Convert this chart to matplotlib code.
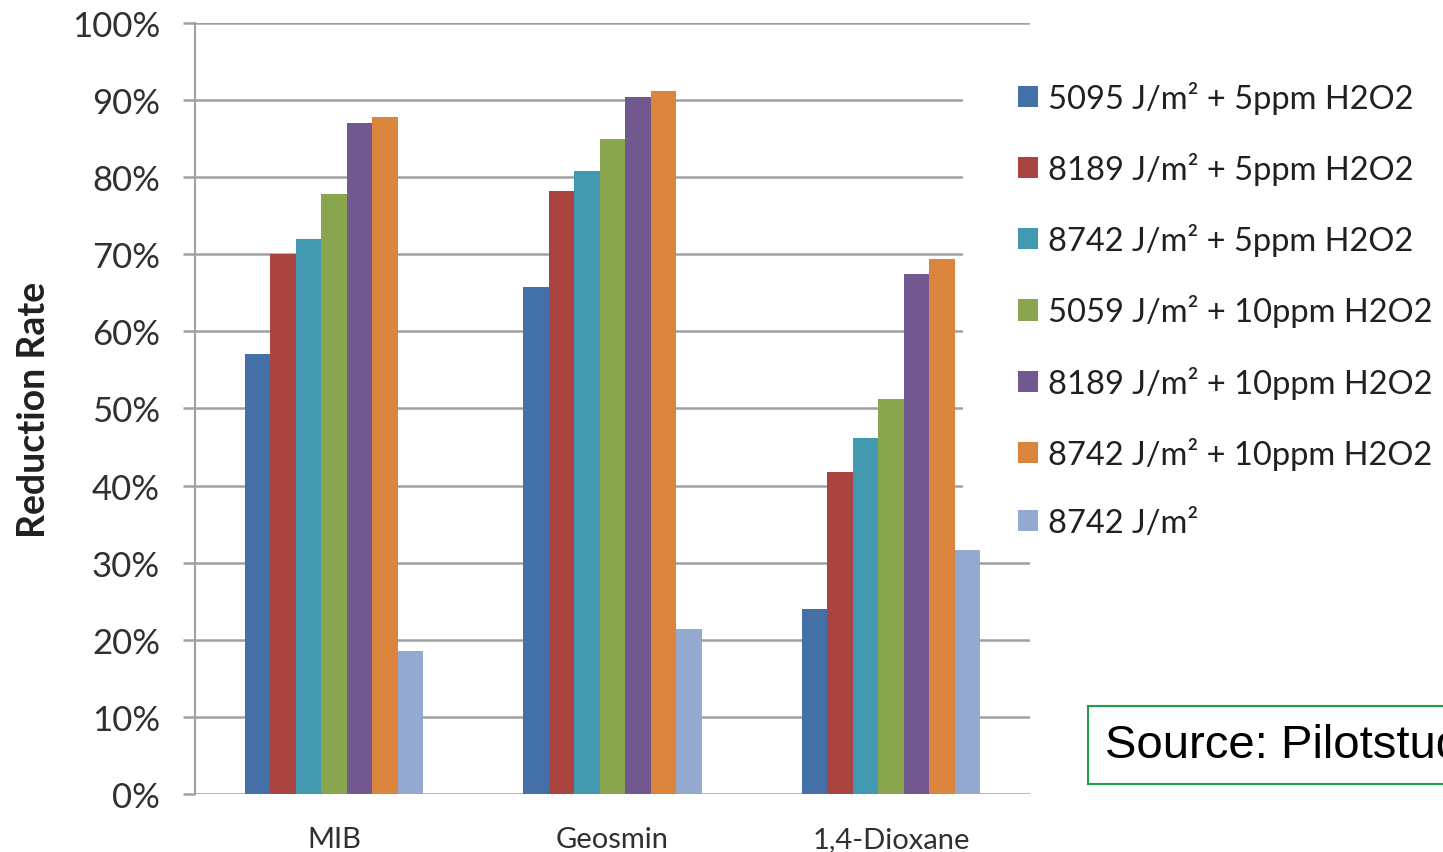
import numpy as np
import matplotlib
matplotlib.use("Agg")
from matplotlib import pyplot as plt
from matplotlib.patches import Rectangle
from matplotlib.ticker import PercentFormatter

plt.rcParams['font.family'] = ['Lato', 'DejaVu Sans']

categories = ['MIB', 'Geosmin', '1,4-Dioxane']
series_labels = ['5095 J/m² + 5ppm H2O2',
                 '8189 J/m² + 5ppm H2O2',
                 '8742 J/m² + 5ppm H2O2',
                 '5059 J/m² + 10ppm H2O2',
                 '8189 J/m² + 10ppm H2O2',
                 '8742 J/m² + 10ppm H2O2',
                 '8742 J/m²']
# reduction rate in percent, one list per series (MIB, Geosmin, 1,4-Dioxane)
s5095_5 = [57.0, 65.8, 24.0]
s8189_5 = [70.0, 78.2, 41.8]
s8742_5 = [72.0, 80.8, 46.2]
s5059_10 = [77.8, 85.0, 51.2]
s8189_10 = [87.0, 90.4, 67.4]
s8742_10 = [87.8, 91.2, 69.4]
s8742 = [18.5, 21.4, 31.6]
yticks = [0, 10, 20, 30, 40, 50, 60, 70, 80, 90, 100]

series = [s5095_5, s8189_5, s8742_5, s5059_10, s8189_10, s8742_10, s8742]
colors = ['#4470a8', '#aa4441', '#4198af', '#89a54e', '#71588f', '#db843d', '#93a9cf']

fig = plt.figure(figsize=(14.43, 8.53), dpi=100)
ax = fig.add_axes([0.135, 0.068, 0.579, 0.904])

x = np.arange(len(categories))
w = 0.0915
for i, vals in enumerate(series):
    ax.bar(x + (i - 3) * w, vals, width=w, color=colors[i], label=series_labels[i], zorder=3)

ax.set_xlim(-0.5, 2.5)
ax.set_ylim(0, 100)
ax.set_yticks(yticks)
ax.yaxis.set_major_formatter(PercentFormatter(decimals=0))
ax.grid(axis='y', color='#a0a0a0', lw=1.8, zorder=0)
ax.set_axisbelow(True)
for s in ['top', 'right', 'bottom']:
    ax.spines[s].set_visible(False)
ax.spines['left'].set_color('#a0a0a0')
ax.spines['left'].set_linewidth(1.5)
ax.tick_params(axis='y', length=9, width=1.8, color='#a0a0a0', pad=16, labelsize=25, labelcolor='#303030')
ax.tick_params(axis='x', length=0, pad=23, labelsize=21, labelcolor='#303030')
ax.set_xticks(x)
ax.set_xticklabels(categories)
ax.set_ylabel('Reduction Rate', fontsize=27, fontweight='bold', color='#202020')
ax.yaxis.set_label_coords(-0.172, 0.5)

# white block behind the legend hides the gridlines there (like the original)
fig.patches.append(Rectangle((0.6674, 0.361), 0.06, 0.569, transform=fig.transFigure,
                             facecolor='white', edgecolor='none', zorder=1))

leg = fig.legend(loc='upper left', bbox_to_anchor=(0.7055, 0.904), fontsize=23.5,
                 handlelength=0.62, handleheight=0.62, handletextpad=0.3,
                 labelspacing=1.17, borderpad=0, borderaxespad=0, frameon=False)
for t in leg.get_texts():
    t.set_color('#202020')

fig.text(1105 / 1443, 1 - 746 / 853, 'Source: Pilotstudy', fontsize=34,
         family='Liberation Sans', va='center', ha='left',
         bbox=dict(boxstyle='square,pad=0.35', fc='white', ec='#1f9e4a', lw=1.5))

fig.savefig('out.png', dpi=100)
